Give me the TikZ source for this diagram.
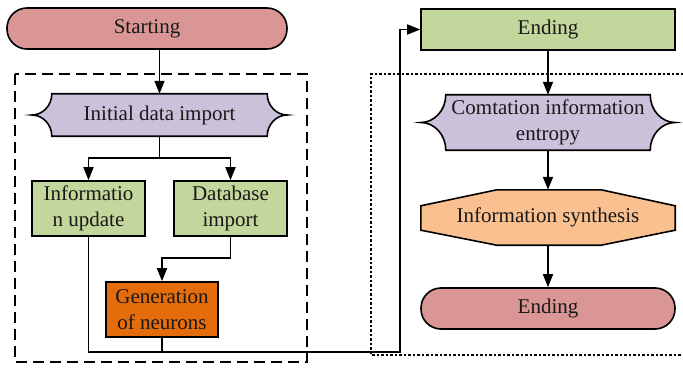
\documentclass[tikz,border=0pt]{standalone}
\usepackage{fontspec}
\setmainfont{Liberation Serif}
\usetikzlibrary{arrows.meta,calc,backgrounds}

\definecolor{termpink}{RGB}{217,150,148}
\definecolor{procgreen}{RGB}{195,214,155}
\definecolor{prepviolet}{RGB}{204,193,218}
\definecolor{neuronorange}{RGB}{228,108,10}
\definecolor{synthpeach}{RGB}{250,192,144}

\tikzset{
  base/.style={inner sep=0pt, align=center, text=black!90, font=\fontsize{21}{26}\selectfont},
  terminal/.style={base, draw, line width=1.6pt, fill=termpink, rounded corners=20pt},
  procbox/.style={base, draw, line width=1.6pt, fill=procgreen},
  genbox/.style={base, draw, line width=1.6pt, fill=neuronorange},
  prepshape/.style={base},
  outline/.style={draw, line width=1.6pt},
  arr/.style={line width=1.6pt, -{Triangle[length=13pt,width=10pt]}},
  link/.style={line width=1.6pt},
  groupdash/.style={line width=1.7pt, dash pattern=on 11pt off 6pt},
  groupdot/.style={line width=1.7pt, dash pattern=on 2.5pt off 2pt},
}

% concave-sided preparation outline around a rectangular node (#1), tips pushed out by #2
\newcommand\braceoutline[3]{%
  \path[outline, fill=#3] (#1.north west) -- (#1.north east)
    .. controls ($(#1.north east)!0.55!(#1.east)$) and ($(#1.east)+(0.45*#2,0)$) .. ($(#1.east)+(#2,0)$)
    .. controls ($(#1.east)+(0.45*#2,0)$) and ($(#1.south east)!0.55!(#1.east)$) .. (#1.south east)
    -- (#1.south west)
    .. controls ($(#1.south west)!0.55!(#1.west)$) and ($(#1.west)+(-0.45*#2,0)$) .. ($(#1.west)+(-#2,0)$)
    .. controls ($(#1.west)+(-0.45*#2,0)$) and ($(#1.north west)!0.55!(#1.west)$) .. (#1.north west)
    -- cycle;}

\begin{document}
\begin{tikzpicture}[x=1pt,y=-1pt]
\useasboundingbox (0,0) rectangle (683,369);

% group frames
\draw[groupdash] (15,74) rectangle (307,362);
\draw[groupdot] (683,74) -- (371,74) -- (371,355) -- (683,355);

% left column
\node[terminal, minimum width=280pt, minimum height=41pt] (start) at (147,28.5) {Starting};
\node[prepshape, minimum width=215pt, minimum height=42pt] (init) at (159.5,115) {Initial data import};
\node[procbox, minimum width=113pt, minimum height=55pt] (info) at (88.5,208.5) {Informatio\\n update};
\node[procbox, minimum width=113pt, minimum height=55pt] (db) at (230.5,208.5) {Database\\import};
\node[genbox, minimum width=112pt, minimum height=55pt] (gen) at (162,309.5) {Generation\\of neurons};

% right column
\node[procbox, minimum width=254pt, minimum height=41pt] (endtop) at (548,29.5) {Ending};
\node[prepshape, minimum width=204pt, minimum height=55pt] (comp) at (548,122.5) {Comtation information\\entropy};
\node[base, minimum width=254pt, minimum height=55pt] (synth) at (548,217.5) {Information synthesis};
\node[terminal, minimum width=254pt, minimum height=41pt] (endbot) at (548,308.5) {Ending};

\begin{scope}[on background layer]
  \braceoutline{init}{20}{prepviolet}
  \braceoutline{comp}{25}{prepviolet}
  \path[outline, fill=synthpeach]
    ($(synth.north west)+(76,0)$) -- ($(synth.north east)+(-74,0)$)
    -- ($(synth.north east)+(0,16)$) -- ($(synth.south east)+(0,-15)$)
    -- ($(synth.south east)+(-74,0)$) -- ($(synth.south west)+(76,0)$)
    -- ($(synth.south west)+(0,-15)$) -- ($(synth.north west)+(0,16)$) -- cycle;
\end{scope}

% junction points
\coordinate (split) at (159.5,158);
\coordinate (kink) at (162,258);
\coordinate (bus) at (400,352);

% connectors
\draw[arr] (init.north |- start.south) -- (init.north);
\draw[link] (init.south) -- (split);
\draw[arr] (split) -| (info.north);
\draw[arr] (split) -| (db.north);
\draw[arr] (db.south) |- (kink) -- (gen.north);
\draw[link] (gen.south) -- (gen.south |- bus);
\draw[arr] (info.south) |- (bus) |- (endtop.west);

\draw[arr] (endtop.south) -- (comp.north);
\draw[arr] (comp.south) -- (synth.north);
\draw[arr] (synth.south) -- (endbot.north);
\end{tikzpicture}
\end{document}
